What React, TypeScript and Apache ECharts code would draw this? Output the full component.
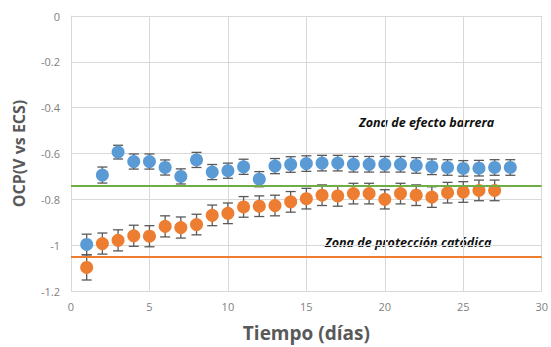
import React, { useEffect, useRef } from "react";
import * as echarts from "echarts";

const days = [1,2,3,4,5,6,7,8,9,10,11,12,13,14,15,16,17,18,19,20,21,22,23,24,25,26,27,28];
const blueOCP = [-0.997,-0.694,-0.594,-0.635,-0.635,-0.661,-0.700,-0.628,-0.681,-0.675,-0.658,-0.712,-0.655,-0.648,-0.644,-0.642,-0.642,-0.647,-0.647,-0.647,-0.647,-0.652,-0.658,-0.661,-0.665,-0.664,-0.661,-0.661];
const blueErr = [0.045,0.035,0.03,0.033,0.033,0.033,0.033,0.033,0.033,0.033,0.033,0.033,0.033,0.034,0.034,0.034,0.034,0.034,0.034,0.034,0.034,0.034,0.034,0.034,0.034,0.034,0.034,0.034];
const orangeOCP = [-1.097,-0.993,-0.979,-0.959,-0.961,-0.918,-0.923,-0.910,-0.870,-0.861,-0.833,-0.830,-0.827,-0.811,-0.797,-0.782,-0.785,-0.775,-0.775,-0.800,-0.775,-0.782,-0.790,-0.771,-0.768,-0.761,-0.761];
const orangeErr = [0.055,0.046,0.046,0.046,0.046,0.046,0.046,0.045,0.045,0.045,0.045,0.045,0.045,0.045,0.045,0.045,0.045,0.045,0.045,0.042,0.045,0.045,0.045,0.045,0.045,0.045,0.045];
const barrierLimit = -0.739;
const cathodicLimit = -1.051;
const annotations = ["Zona de efecto barrera", "Zona de protección catódica"];

const BLUE = "#5b9bd5";
const ORANGE = "#ed7d31";
const GREEN = "#70ad47";
const FONT = "'Open Sans', 'DejaVu Sans', sans-serif";

function errorSeries(vals: number[], errs: number[]) {
  return {
    type: "custom",
    z: 1,
    renderItem: (params: any, api: any) => {
      const x = api.value(0);
      const y = api.value(1);
      const e = api.value(2);
      const top = api.coord([x, y + e]);
      const bot = api.coord([x, y - e]);
      const w = 5;
      const style = { stroke: "#595959", lineWidth: 1.3 };
      return {
        type: "group",
        children: [
          { type: "line", shape: { x1: top[0], y1: top[1], x2: bot[0], y2: bot[1] }, style },
          { type: "line", shape: { x1: top[0] - w, y1: top[1], x2: top[0] + w, y2: top[1] }, style },
          { type: "line", shape: { x1: bot[0] - w, y1: bot[1], x2: bot[0] + w, y2: bot[1] }, style },
        ],
      };
    },
    data: vals.map((v, i) => [days[i], v, errs[i]]),
  };
}

export default function App() {
  const ref = useRef<HTMLDivElement>(null);
  useEffect(() => {
    const chart = echarts.init(ref.current!, null, { renderer: "svg" });
    chart.setOption({
      animation: false,
      backgroundColor: "#ffffff",
      grid: { left: 71, right: 5, top: 16, bottom: 51, containLabel: false },
      xAxis: {
        type: "value",
        min: 0,
        max: 30,
        interval: 5,
        name: "Tiempo (días)",
        nameLocation: "middle",
        nameGap: 32,
        nameTextStyle: { fontFamily: FONT, fontWeight: "bold", fontSize: 19, color: "#595959" },
        axisLine: { show: true, lineStyle: { color: "#d9d9d9" } },
        axisTick: { show: false },
        axisLabel: { fontFamily: FONT, fontSize: 11, color: "#7f7f7f", margin: 10 },
        splitLine: { show: true, lineStyle: { color: "#d9d9d9" } },
      },
      yAxis: {
        type: "value",
        min: -1.2,
        max: 0,
        interval: 0.2,
        name: "OCP(V vs ECS)",
        nameLocation: "middle",
        nameGap: 44,
        nameTextStyle: { fontFamily: FONT, fontWeight: "bold", fontSize: 16, color: "#595959" },
        axisLine: { show: true, lineStyle: { color: "#d9d9d9" } },
        axisTick: { show: false },
        axisLabel: { fontFamily: FONT, fontSize: 11, color: "#7f7f7f", margin: 11 },
        splitLine: { show: true, lineStyle: { color: "#d9d9d9" } },
      },
      series: [
        errorSeries(blueOCP, blueErr),
        errorSeries(orangeOCP, orangeErr),
        {
          type: "scatter",
          z: 3,
          symbolSize: 13,
          itemStyle: { color: BLUE, opacity: 1 },
          data: blueOCP.map((v, i) => [days[i], v]),
          markLine: {
            silent: true,
            symbol: "none",
            label: { show: false },
            lineStyle: { color: GREEN, width: 2, type: "solid" },
            data: [{ yAxis: barrierLimit }],
          },
        },
        {
          type: "scatter",
          z: 3,
          symbolSize: 13,
          itemStyle: { color: ORANGE, opacity: 1 },
          data: orangeOCP.map((v, i) => [days[i], v]),
          markLine: {
            silent: true,
            symbol: "none",
            label: { show: false },
            lineStyle: { color: ORANGE, width: 2, type: "solid" },
            data: [{ yAxis: cathodicLimit }],
          },
        },
      ],
      graphic: [
        {
          type: "text",
          left: 359,
          top: 116,
          style: { text: annotations[0], font: `italic bold 12.5px ${FONT}`, fill: "#111111" },
        },
        {
          type: "text",
          left: 325,
          top: 236,
          style: { text: annotations[1], font: `italic bold 12.5px ${FONT}`, fill: "#111111" },
        },
      ],
    });
    return () => chart.dispose();
  }, []);
  return <div ref={ref} style={{ position: "fixed", left: 0, top: 0, width: 551, height: 347 }} />;
}
